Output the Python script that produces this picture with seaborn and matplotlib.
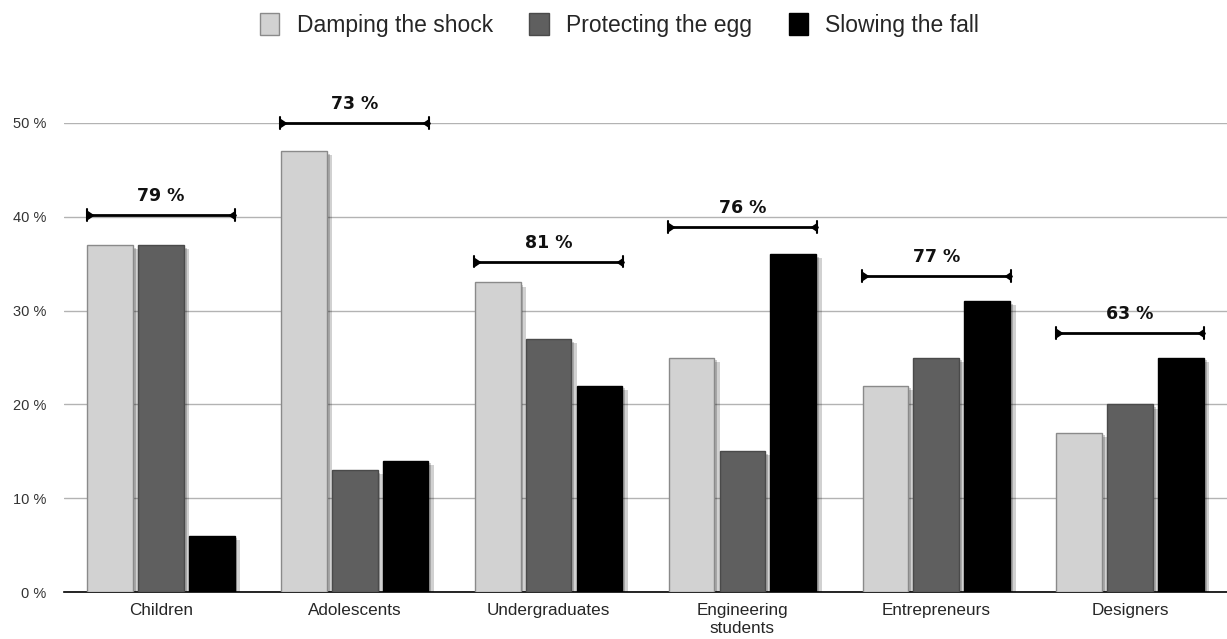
import matplotlib
matplotlib.use("Agg")
import matplotlib.pyplot as plt
import matplotlib.patheffects as pe
from matplotlib.patches import Patch
import seaborn as sns
import pandas as pd
import numpy as np

categories = ["Children", "Adolescents", "Undergraduates", "Engineering\nstudents", "Entrepreneurs", "Designers"]
series_names = ["Damping the shock", "Protecting the egg", "Slowing the fall"]
damping = [37, 47, 33, 25, 22, 17]
protecting = [37, 13, 27, 15, 25, 20]
slowing = [6, 14, 22, 36, 31, 25]
bracket_labels = ["79 %", "73 %", "81 %", "76 %", "77 %", "63 %"]
bracket_levels = [40.2, 50, 35.2, 38.9, 33.7, 27.6]
yticks = [0, 10, 20, 30, 40, 50]

colors = ["#d2d2d2", "#5f5f5f", "#000000"]
edges = ["#8a8a8a", "#4a4a4a", "#000000"]

sns.set_theme(style="white")
plt.rcParams['font.family'] = ['Liberation Sans', 'DejaVu Sans']

rows = []
for name, vals in zip(series_names, [damping, protecting, slowing]):
    for c, v in zip(categories, vals):
        rows.append({"category": c, "series": name, "value": v})
df = pd.DataFrame(rows)

fig = plt.figure(figsize=(12.27, 6.39), dpi=100)
ax = fig.add_axes([64 / 1227, 1 - 592 / 639, 1 - 64 / 1227, (592 - 123) / 639])

group_w = 0.787
sns.barplot(data=df, x="category", y="value", hue="series", order=categories,
            hue_order=series_names, palette=colors, width=group_w, gap=0.1,
            legend=False, ax=ax, saturation=1)

for i, cont in enumerate(ax.containers):
    for p in cont.patches:
        p.set_edgecolor(edges[i])
        p.set_linewidth(1.0)
        p.set_path_effects([pe.SimplePatchShadow(offset=(4, -3), shadow_rgbFace="black", alpha=0.18),
                            pe.SimplePatchShadow(offset=(2, -2), shadow_rgbFace="black", alpha=0.2),
                            pe.Normal()])
        p.set_zorder(3)

ax.set_ylim(0, 50)
ax.set_xlim(-0.5, len(categories) - 0.5)
ax.set_yticks(yticks)
ax.set_yticklabels([f"{t} %" for t in yticks], fontsize=10.5, color="#333333")
ax.tick_params(axis="x", labelsize=12.3, length=0, pad=8)
ax.tick_params(axis="y", length=0, pad=13)
ax.set_xlabel("")
ax.set_ylabel("")
for t in ax.get_xticklabels():
    t.set_linespacing(1.25)
ax.yaxis.grid(True, color="#b3b3b3", linewidth=1.0, zorder=0)
ax.set_axisbelow(True)
for s in ["top", "right", "left"]:
    ax.spines[s].set_visible(False)
ax.spines["bottom"].set_color("black")
ax.spines["bottom"].set_linewidth(1.2)

half = group_w / 2 - 0.01
for i, (lab, lvl) in enumerate(zip(bracket_labels, bracket_levels)):
    x0, x1 = i - half, i + half
    ax.plot([x0, x1], [lvl, lvl], color="black", lw=2, clip_on=False, zorder=5)
    ax.plot([x0], [lvl], marker=9, color="black", ms=6, clip_on=False, zorder=5)
    ax.plot([x1], [lvl], marker=8, color="black", ms=6, clip_on=False, zorder=5)
    ax.plot([x0, x0], [lvl - 0.6, lvl + 0.6], color="black", lw=1.5, clip_on=False, zorder=5)
    ax.plot([x1, x1], [lvl - 0.6, lvl + 0.6], color="black", lw=1.5, clip_on=False, zorder=5)
    ax.annotate(lab, (i, lvl), xytext=(0, 7), textcoords="offset points",
                ha="center", va="bottom", fontsize=12.5, fontweight="bold",
                family=["DejaVu Sans"], color="#111111", annotation_clip=False)

handles = [Patch(facecolor=c, edgecolor=e, label=n) for c, e, n in zip(colors, edges, series_names)]
fig.legend(handles=handles, loc="upper center", bbox_to_anchor=(0.505, 1.012), ncol=3,
           frameon=False, fontsize=16.5, handlelength=0.85, handleheight=1.1,
           handletextpad=0.75, columnspacing=1.6)

fig.savefig("out.png", dpi=100)
